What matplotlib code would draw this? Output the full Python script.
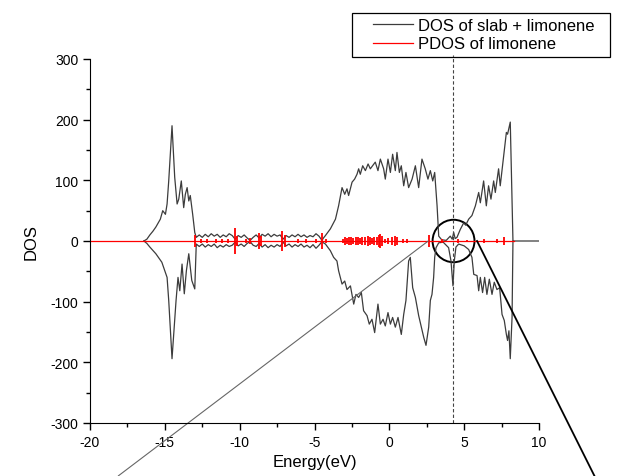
import matplotlib
matplotlib.use('Agg')
import matplotlib.pyplot as plt
from matplotlib.patches import Ellipse, Rectangle
from matplotlib.ticker import MultipleLocator

plt.rcParams['font.family'] = ['Liberation Sans', 'DejaVu Sans']
plt.rcParams['axes.unicode_minus'] = False

# --- Data ---
# DOS of slab + limonene, spin up (positive branch)
up_e = [-16.4, -16.2, -16.0, -15.8, -15.6, -15.3, -15.14, -14.96, -14.85, -14.74,
        -14.52, -14.34, -14.18, -14.07, -13.9, -13.74, -13.63, -13.51, -13.4, -13.3,
        -13.14, -13.0, -12.9, -12.7, -12.5, -12.3, -12.1, -11.9, -11.7, -11.5,
        -11.3, -11.1, -10.9, -10.7, -10.5, -10.3, -10.1, -9.9, -9.7, -9.5,
        -9.3, -9.1, -8.9, -8.7, -8.5, -8.3, -8.1, -7.9, -7.7, -7.5,
        -7.3, -7.1, -6.9, -6.7, -6.5, -6.3, -6.1, -5.9, -5.7, -5.5,
        -5.3, -5.1, -4.9, -4.7, -4.5, -4.4, -4.27, -3.94, -3.6, -3.39,
        -3.16, -2.98, -2.83, -2.72, -2.49, -2.32, -2.16, -2.05, -1.94, -1.78,
        -1.6, -1.42, -1.27, -1.12, -0.94, -0.76, -0.6, -0.38, -0.27, -0.09,
        0.07, 0.22, 0.4, 0.51, 0.67, 0.8, 0.96, 1.11, 1.29, 1.52,
        1.74, 1.96, 2.18, 2.4, 2.58, 2.74, 2.9, 3.03, 3.19, 3.3,
        3.5, 3.8, 4.07, 4.2, 4.3, 4.4, 4.52, 4.74, 4.97, 5.1,
        5.3, 5.52, 5.75, 5.97, 6.08, 6.3, 6.48, 6.63, 6.79, 6.97,
        7.08, 7.3, 7.41, 7.64, 7.82, 7.9, 8.08, 8.26, 10.0]
up_v = [0, 3, 10, 16, 23, 36, 50, 44, 61, 99,
        190, 105, 61, 69, 99, 55, 77, 88, 66, 75,
        44, 14, 6, 10, 6, 11, 7, 12, 8, 11,
        6, 10, 7, 12, 9, 3, 9, 6, 10, 5,
        1, 6, 10, 5, 11, 8, 12, 7, 11, 8,
        10, 3, 9, 6, 10, 7, 11, 7, 10, 6,
        9, 7, 12, 8, 1, 5, 9, 20, 36, 58,
        88, 77, 86, 75, 97, 102, 110, 119, 110, 124,
        116, 127, 119, 124, 130, 116, 135, 119, 102, 135,
        113, 143, 116, 146, 113, 124, 91, 113, 88, 102,
        124, 88, 135, 119, 102, 116, 99, 113, 58, 8,
        2, 1, 8, 3, 14, 4, 6, 19, 30, 26,
        36, 42, 58, 80, 63, 99, 58, 91, 69, 99,
        80, 119, 91, 140, 179, 176, 196, 0, 0]

# spin down (negative branch)
dn_e = [-16.4, -16.2, -16.0, -15.6, -15.2, -14.96, -14.85, -14.74, -14.52, -14.25,
        -14.12, -14.0, -13.85, -13.7, -13.56, -13.4, -13.3, -13.2, -13.0, -12.9,
        -12.7, -12.5, -12.3, -12.1, -11.9, -11.7, -11.5, -11.3, -11.1, -10.9,
        -10.7, -10.5, -10.3, -10.1, -9.9, -9.7, -9.5, -9.3, -9.1, -8.9,
        -8.7, -8.5, -8.3, -8.1, -7.9, -7.7, -7.5, -7.3, -7.1, -6.9,
        -6.7, -6.5, -6.3, -6.1, -5.9, -5.7, -5.5, -5.3, -5.1, -4.9,
        -4.7, -4.5, -4.4, -4.27, -3.94, -3.72, -3.5, -3.39, -3.16, -2.98,
        -2.83, -2.6, -2.38, -2.23, -2.05, -1.87, -1.72, -1.49, -1.34, -1.16,
        -0.98, -0.76, -0.6, -0.42, -0.27, -0.09, 0.07, 0.22, 0.4, 0.58,
        0.8, 0.96, 1.11, 1.29, 1.4, 1.56, 1.74, 1.96, 2.14, 2.3,
        2.45, 2.63, 2.74, 2.85, 2.96, 3.03, 3.12, 3.3, 3.6, 3.96,
        4.12, 4.25, 4.34, 4.45, 4.63, 5.0, 5.3, 5.52, 5.64, 5.86,
        5.97, 6.08, 6.23, 6.37, 6.52, 6.68, 6.86, 7.01, 7.19, 7.37,
        7.53, 7.68, 7.82, 7.9, 7.99, 8.08, 8.2, 8.26]
dn_v = [0, -4, -10, -21, -35, -52, -60, -98, -194, -98,
        -60, -82, -38, -87, -49, -21, -43, -65, -79, -5,
        -9, -5, -10, -6, -9, -5, -11, -7, -10, -6,
        -9, -7, -2, -8, -5, -9, -4, -1, -7, -9,
        -4, -10, -6, -11, -7, -10, -6, -9, -2, -8,
        -5, -10, -6, -9, -5, -10, -7, -11, -6, -12,
        -7, -1, -3, -5, -16, -27, -33, -49, -71, -66,
        -80, -74, -104, -88, -93, -85, -115, -123, -137, -129,
        -151, -104, -137, -129, -140, -118, -137, -126, -142, -126,
        -154, -121, -98, -33, -27, -77, -93, -123, -142, -159,
        -172, -142, -98, -88, -60, -27, -11, -3, -2, -11,
        -33, -74, -33, -10, -5, -8, -14, -27, -55, -57,
        -82, -60, -85, -60, -88, -63, -88, -68, -80, -77,
        -121, -131, -154, -164, -148, -194, -126, 0]

# PDOS of limonene: peak energies and half heights (symmetric up/down)
pdos_e = [-13.0, -12.6, -12.2, -11.6, -11.2, -10.8, -10.3, -10.15, -9.6, -9.3,
          -8.7, -8.55, -7.15, -6.95, -6.1, -5.6, -4.9, -4.5, -4.2,
          -3.1, -2.95, -2.85, -2.7, -2.55, -2.4, -2.25, -2.1, -1.95, -1.8,
          -1.65, -1.45, -1.3, -1.15, -1.0, -0.85, -0.7, -0.6, -0.5, -0.3,
          -0.1, 0.15, 0.35, 0.5, 0.9, 1.2, 2.62, 3.5, 4.6, 5.2,
          6.3, 7.2, 7.68]
pdos_h = [10, 4, 4, 4, 3, 4, 22, 8, 4, 5,
          14, 8, 16, 10, 3, 4, 4, 14, 3,
          4, 6, 5, 7, 6, 5, 7, 6, 5, 7,
          6, 8, 6, 5, 7, 6, 10, 12, 8, 4,
          5, 6, 8, 7, 4, 4, 10, 3, 3, 2,
          3, 3, 6]
pdos_range = [-20, 8.3]

fermi_e = 4.23
circle_e = 4.29

x_ticks = [-20, -15, -10, -5, 0, 5, 10]
y_ticks = [-300, -200, -100, 0, 100, 200, 300]

DOS_COLOR = '#3c3c3c'

fig = plt.figure(figsize=(6.22, 4.77), dpi=100)
ax = fig.add_axes([90 / 622, 1 - 424 / 477, 449 / 622, 364 / 477])

ax.plot(up_e, up_v, color=DOS_COLOR, lw=0.9, label='DOS of slab + limonene')
ax.plot(dn_e, dn_v, color=DOS_COLOR, lw=0.9)
ax.plot(pdos_range, [0, 0], color='red', lw=0.9, label='PDOS of limonene')
ax.vlines(pdos_e, [-h for h in pdos_h], pdos_h, color='red', lw=1.3)

ax.axvline(fermi_e, ymin=0, ymax=1.01, color='#444444', lw=0.8,
           linestyle=(0, (3, 2)), clip_on=False)

# circle around the region near the Fermi level and the two zoom lines
ax.add_patch(Ellipse((circle_e, 0), 2.8, 70, fill=False, edgecolor='black', lw=1.4))
ax.plot([2.6, -18.1], [0, -387], color='#666666', lw=0.8, clip_on=False)
ax.plot([5.86, 13.7], [0, -387], color='black', lw=1.3, clip_on=False)

ax.set_xlim(-20, 10)
ax.set_ylim(-300, 300)
ax.set_xticks(x_ticks)
ax.set_yticks(y_ticks)
ax.xaxis.set_minor_locator(MultipleLocator(2.5))
ax.yaxis.set_minor_locator(MultipleLocator(50))
ax.tick_params(which='major', direction='out', length=5, width=1, labelsize=10)
ax.tick_params(which='minor', direction='out', length=3, width=1)
ax.spines['top'].set_visible(False)
ax.spines['right'].set_visible(False)
ax.set_xlabel('Energy(eV)', fontsize=12, labelpad=4)
ax.set_ylabel('DOS', fontsize=12, labelpad=8)

# legend: entries without frame, box drawn separately so the padding matches
leg = fig.legend(loc='upper left', bbox_to_anchor=(373 / 622, 1 - 19 / 477),
                 fontsize=12, frameon=False, handlelength=2.4, labelspacing=0.2,
                 borderpad=0, handletextpad=0.3, borderaxespad=0)
fig.add_artist(Rectangle((351.5 / 622, 1 - 57.5 / 477), 258 / 622, 44 / 477,
                         transform=fig.transFigure, fill=False,
                         edgecolor='black', lw=0.9))

fig.savefig('out.png', dpi=100)
